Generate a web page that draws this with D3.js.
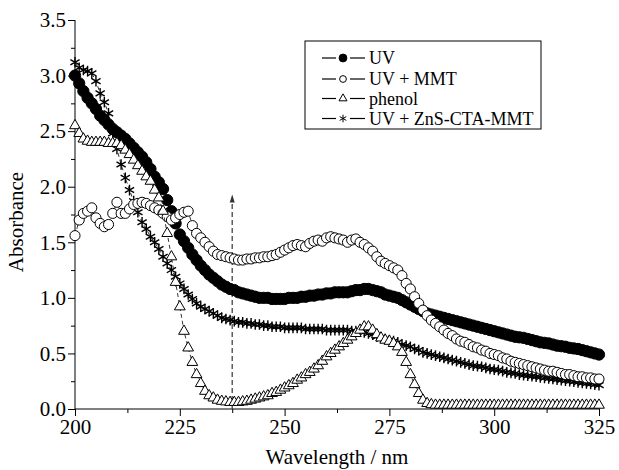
<!DOCTYPE html>
<html>
<head>
<meta charset="utf-8" />
<script src="https://cdnjs.cloudflare.com/ajax/libs/d3/7.8.5/d3.min.js"></script>
</head>
<body style="margin:0">
<script>
// wavelength grid, 1 nm steps
var wl = d3.range(200, 326);

var uv = [3.00,2.93,2.86,2.80,2.75,2.70,2.64,2.60,2.56,2.52,2.49,2.46,2.43,2.39,2.35,2.31,2.27,2.22,2.16,2.09,
2.04,1.98,1.88,1.78,1.67,1.57,1.51,1.45,1.39,1.34,1.29,1.25,1.21,1.18,1.15,1.12,1.10,1.08,1.07,1.05,
1.04,1.03,1.02,1.01,1.00,1.00,1.00,0.99,0.99,0.99,0.99,1.00,1.00,1.00,1.01,1.01,1.02,1.02,1.03,1.03,
1.04,1.04,1.05,1.05,1.05,1.05,1.06,1.07,1.07,1.08,1.08,1.07,1.06,1.05,1.03,1.02,1.01,1.00,0.98,0.96,
0.94,0.92,0.90,0.88,0.86,0.85,0.84,0.83,0.82,0.81,0.80,0.79,0.78,0.77,0.76,0.75,0.74,0.73,0.72,0.71,
0.70,0.69,0.68,0.67,0.66,0.65,0.645,0.64,0.63,0.62,0.61,0.60,0.595,0.59,0.58,0.57,0.565,0.56,0.55,0.545,
0.54,0.53,0.52,0.51,0.50,0.49];

var uvMMT = [1.56,1.70,1.76,1.78,1.81,1.72,1.67,1.64,1.66,1.76,1.86,1.76,1.76,1.80,1.84,1.85,1.86,1.85,1.83,1.81,
1.79,1.76,1.73,1.70,1.72,1.75,1.77,1.78,1.65,1.58,1.54,1.50,1.46,1.42,1.39,1.38,1.37,1.36,1.35,1.34,
1.34,1.35,1.35,1.36,1.36,1.37,1.37,1.38,1.39,1.41,1.43,1.45,1.47,1.48,1.47,1.46,1.49,1.51,1.52,1.51,
1.54,1.55,1.54,1.53,1.52,1.50,1.52,1.53,1.50,1.48,1.45,1.42,1.37,1.33,1.31,1.29,1.27,1.25,1.20,1.13,
1.08,1.01,0.95,0.89,0.84,0.80,0.77,0.74,0.71,0.68,0.66,0.63,0.61,0.60,0.58,0.56,0.55,0.53,0.52,0.50,
0.49,0.48,0.46,0.45,0.43,0.42,0.41,0.40,0.39,0.38,0.37,0.36,0.35,0.34,0.34,0.33,0.32,0.31,0.31,0.30,
0.29,0.29,0.28,0.28,0.27,0.27];

var phenol = [2.55,2.48,2.43,2.41,2.40,2.40,2.40,2.40,2.39,2.39,2.39,2.37,2.33,2.29,2.24,2.19,2.14,2.09,2.05,1.97,
1.90,1.78,1.58,1.37,1.14,0.92,0.70,0.55,0.42,0.31,0.23,0.16,0.12,0.10,0.08,0.07,0.065,0.06,0.06,0.06,
0.065,0.07,0.08,0.09,0.10,0.11,0.12,0.14,0.15,0.17,0.19,0.21,0.23,0.26,0.28,0.31,0.33,0.36,0.39,0.43,
0.47,0.50,0.53,0.56,0.59,0.62,0.65,0.68,0.71,0.74,0.74,0.71,0.67,0.64,0.62,0.61,0.59,0.56,0.51,0.42,
0.31,0.22,0.14,0.08,0.05,0.04,0.035,0.035,0.035,0.035,0.035,0.035,0.035,0.035,0.035,0.035,0.035,0.035,0.035,0.035,
0.035,0.035,0.035,0.035,0.035,0.035,0.035,0.035,0.035,0.035,0.035,0.035,0.035,0.035,0.035,0.035,0.035,0.035,0.035,0.035,
0.035,0.035,0.035,0.035,0.035,0.035];

var uvZnS = [3.12,3.07,3.05,3.04,3.02,2.95,2.84,2.76,2.66,2.48,2.34,2.20,2.08,1.97,1.87,1.77,1.68,1.62,1.55,1.50,
1.44,1.37,1.31,1.25,1.19,1.13,1.08,1.03,0.99,0.95,0.92,0.90,0.88,0.86,0.84,0.82,0.81,0.80,0.79,0.78,
0.78,0.77,0.77,0.76,0.76,0.75,0.75,0.74,0.74,0.74,0.73,0.73,0.73,0.73,0.73,0.72,0.72,0.72,0.72,0.72,
0.71,0.71,0.71,0.71,0.71,0.71,0.70,0.70,0.70,0.69,0.68,0.67,0.65,0.64,0.63,0.62,0.61,0.60,0.58,0.57,
0.56,0.54,0.53,0.51,0.50,0.49,0.48,0.47,0.46,0.45,0.44,0.43,0.42,0.41,0.40,0.39,0.385,0.38,0.37,0.36,
0.355,0.35,0.34,0.33,0.325,0.32,0.31,0.305,0.30,0.295,0.29,0.285,0.28,0.275,0.27,0.265,0.26,0.255,0.25,0.245,
0.24,0.235,0.23,0.225,0.22,0.215];

var xTicks = [200, 225, 250, 275, 300, 325];
var yTicks = [0, 0.5, 1.0, 1.5, 2.0, 2.5, 3.0, 3.5];
var legendNames = ["UV", "UV + MMT", "phenol", "UV + ZnS-CTA-MMT"];
var arrowAt = 237.5, arrowTop = 1.93;

var FONT = "'Times New Roman', 'Liberation Serif', Tinos";
var svg = d3.select("body").append("svg").attr("width", 619).attr("height", 470)
  .style("font-family", FONT);

var x = d3.scaleLinear().domain([200, 325]).range([75, 599]);
var y = d3.scaleLinear().domain([0, 3.5]).range([409, 20]);

function txt(sel, size) {
  return sel.attr("font-family", "Liberation Serif").style("font-family", FONT)
    .style("font-size", size + "px").attr("fill", "#000");
}

// axes, major + minor ticks
var xAxis = d3.axisBottom(x).tickValues(xTicks).tickSize(7).tickPadding(3).tickFormat(d3.format("d"));
var xMinor = d3.axisBottom(x).tickValues(xTicks.slice(0, -1).map(function(d){return d + 12.5;})).tickSize(4).tickFormat("");
var yAxis = d3.axisLeft(y).tickValues(yTicks).tickSize(7).tickPadding(2).tickFormat(d3.format(".1f"));
var yMinor = d3.axisLeft(y).tickValues(yTicks.slice(0, -1).map(function(d){return d + 0.25;})).tickSize(4).tickFormat("");

var gx = svg.append("g").attr("transform", "translate(0,409)").call(xAxis);
svg.append("g").attr("transform", "translate(0,409)").call(xMinor);
var gy = svg.append("g").attr("transform", "translate(75,0)").call(yAxis);
svg.append("g").attr("transform", "translate(75,0)").call(yMinor);
svg.selectAll("g").attr("font-family", null);
svg.selectAll("path.domain").remove();
svg.selectAll(".tick line").attr("stroke", "#000");
txt(gx.selectAll("text"), 21);
txt(gy.selectAll("text"), 21);
svg.append("line").attr("x1", 75).attr("x2", 599).attr("y1", 409).attr("y2", 409).attr("stroke", "#000");
svg.append("line").attr("x1", 75).attr("x2", 75).attr("y1", 20).attr("y2", 409).attr("stroke", "#000");

txt(svg.append("text").attr("x", 337).attr("y", 464).attr("text-anchor", "middle"), 21).text("Wavelength / nm");
txt(svg.append("text").attr("transform", "translate(23,222) rotate(-90)").attr("text-anchor", "middle"), 21).text("Absorbance");

// dashed arrow
svg.append("line").attr("x1", x(arrowAt)).attr("x2", x(arrowAt))
  .attr("y1", y(0)).attr("y2", y(arrowTop) + 6)
  .attr("stroke", "#444").attr("stroke-width", 1.3).attr("stroke-dasharray", "5,3");
svg.append("path").attr("d", "M" + (x(arrowAt) - 2.5) + "," + (y(arrowTop) + 8) + " L" + x(arrowAt) + "," + y(arrowTop) +
  " L" + (x(arrowAt) + 2.5) + "," + (y(arrowTop) + 8) + " Z").attr("fill", "#333");

var line = d3.line().x(function(d){return x(d[0]);}).y(function(d){return y(d[1]);});

var series = [
  {vals: uv, sym: d3.symbolCircle, size: 100, fill: "#000", sw: 1},
  {vals: uvZnS, sym: d3.symbolAsterisk, size: 80, fill: "none", sw: 1.4},
  {vals: uvMMT, sym: d3.symbolCircle, size: 80, fill: "#fff", sw: 1},
  {vals: phenol, sym: d3.symbolTriangle, size: 50, fill: "#fff", sw: 1}
];

series.forEach(function(s) {
  var pts = wl.map(function(w, i){ return [w, s.vals[i]]; });
  svg.append("path").datum(pts).attr("d", line).attr("fill", "none")
    .attr("stroke", "#000").attr("stroke-width", 0.8).attr("stroke-dasharray", "4,3");
  svg.append("g").selectAll("path").data(pts).enter().append("path")
    .attr("transform", function(d){ return "translate(" + x(d[0]) + "," + y(d[1]) + ")"; })
    .attr("d", d3.symbol().type(s.sym).size(s.size))
    .attr("fill", s.fill).attr("stroke", "#000").attr("stroke-width", s.sw);
});

// legend
var lg = svg.append("g");
lg.append("rect").attr("x", 305).attr("y", 41).attr("width", 236).attr("height", 88)
  .attr("fill", "#fff").attr("stroke", "#000").attr("stroke-width", 1);
var legSyms = [
  {sym: d3.symbolCircle, size: 48, fill: "#000"},
  {sym: d3.symbolCircle, size: 36, fill: "#fff"},
  {sym: d3.symbolTriangle, size: 28, fill: "#fff"},
  {sym: d3.symbolAsterisk, size: 40, fill: "none"}
];
var legY = [58, 79, 98.5, 118.5];
for (var i = 0; i < legendNames.length; i++) {
  var row = lg.append("g").attr("transform", "translate(0," + legY[i] + ")");
  row.append("line").attr("x1", 322).attr("x2", 336).attr("stroke", "#000").attr("stroke-width", 1.2);
  row.append("line").attr("x1", 350).attr("x2", 365).attr("stroke", "#000").attr("stroke-width", 1.2);
  row.append("path").attr("transform", "translate(343,0)")
    .attr("d", d3.symbol().type(legSyms[i].sym).size(legSyms[i].size))
    .attr("fill", legSyms[i].fill).attr("stroke", "#000").attr("stroke-width", 1);
  txt(row.append("text").attr("x", 369).attr("y", 6), 18).text(legendNames[i]);
}
</script>
</body>
</html>
